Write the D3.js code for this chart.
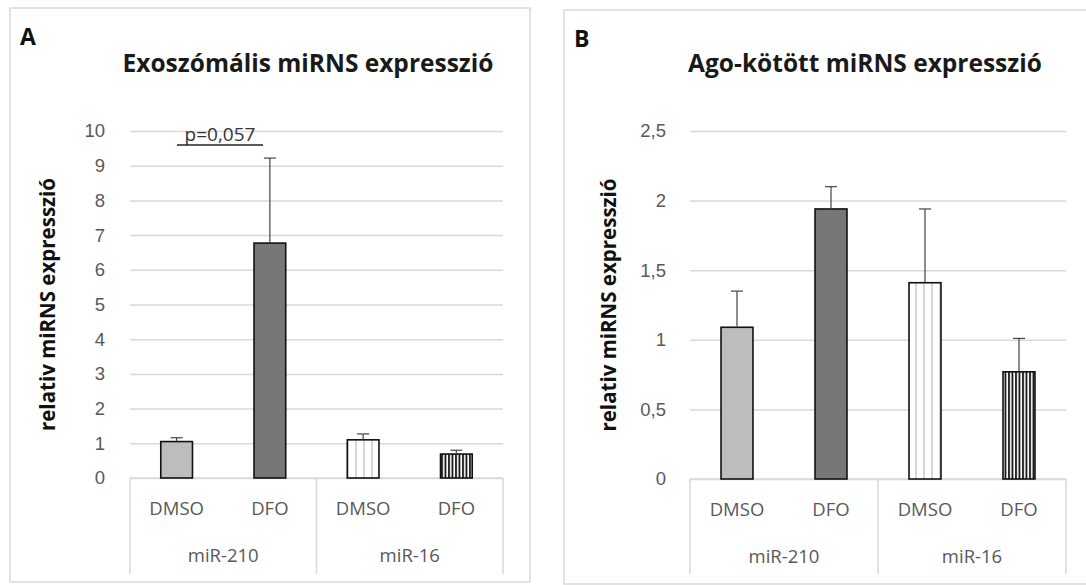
<!DOCTYPE html>
<html>
<head>
<meta charset="utf-8">
<script src="https://cdn.jsdelivr.net/npm/d3@7"></script>
<style>
  body { margin: 0; background: #fff; }
  svg { display: block; font-family: "Open Sans", "Liberation Sans", sans-serif; }
</style>
</head>
<body>
<svg id="chart" width="1086" height="585"></svg>
<script>
// 카테고리
const groups = ['miR-210', 'miR-16'];
const treatments = ['DMSO', 'DFO'];

// A: 엑소좀 miRNA 발현 (평균, 오차)
const exoMean = [1.05, 6.77, 1.1, 0.69];
const exoErr = [0.11, 2.45, 0.17, 0.11];
const exoTicks = [0, 1, 2, 3, 4, 5, 6, 7, 8, 9, 10];

// B: Ago 결합 miRNA 발현
const agoMean = [1.09, 1.94, 1.41, 0.77];
const agoErr = [0.26, 0.16, 0.53, 0.24];
const agoTicks = [0, 0.5, 1, 1.5, 2, 2.5];

const fillIds = ['solidLight', 'solidDark', 'stripeLight', 'stripeDark'];

const svg = d3.select('#chart');
const huFormat = d3.formatLocale({ decimal: ',', thousands: ' ', grouping: [3], currency: ['', ''] }).format('.1~f');

// 패턴 정의
const defs = svg.append('defs');
const p1 = defs.append('pattern').attr('id', 'stripeLight').attr('patternUnits', 'userSpaceOnUse')
    .attr('width', 8).attr('height', 10);
p1.append('rect').attr('width', 8).attr('height', 10).attr('fill', '#fff');
p1.append('line').attr('x1', 4).attr('x2', 4).attr('y1', 0).attr('y2', 10)
    .attr('stroke', '#b0b0b0').attr('stroke-width', 1);

const p2 = defs.append('pattern').attr('id', 'stripeDark').attr('patternUnits', 'userSpaceOnUse')
    .attr('width', 3.5).attr('height', 10);
p2.append('rect').attr('width', 3.5).attr('height', 10).attr('fill', '#fff');
p2.append('line').attr('x1', 1).attr('x2', 1).attr('y1', 0).attr('y2', 10)
    .attr('stroke', '#111').attr('stroke-width', 1.8);

function fillFor(i) {
    if (i === 0) return '#bdbdbd';
    if (i === 1) return '#777777';
    return `url(#${fillIds[i]})`;
}

function drawPanel(opts) {
    const { box, letter, title, titleX, plot, ticks, mean, err, yMax, yLabelX } = opts;
    const g = svg.append('g');

    // 패널 테두리
    g.append('rect')
        .attr('x', box[0]).attr('y', box[1])
        .attr('width', box[2]).attr('height', box[3])
        .attr('fill', '#fff').attr('stroke', '#d9d9d9').attr('stroke-width', 1.5);

    g.append('text')
        .attr('x', box[0] + 10).attr('y', box[1] + 37)
        .attr('font-size', 23).attr('font-weight', 'bold').attr('fill', '#111')
        .text(letter);

    g.append('text')
        .attr('x', titleX).attr('y', 72)
        .attr('text-anchor', 'middle')
        .attr('font-size', 24.5).attr('font-weight', 'bold').attr('fill', '#1a1a1a')
        .text(title);

    const y = d3.scaleLinear().domain([0, yMax]).range([plot.bottom, plot.top]);
    const cats = d3.range(4);
    const x = d3.scaleBand().domain(cats).range([plot.left, plot.right]).paddingInner(0).paddingOuter(0);
    const barW = x.bandwidth() * 0.34;

    // 그리드 + y축
    const yAxis = d3.axisLeft(y)
        .tickValues(ticks)
        .tickSize(-(plot.right - plot.left))
        .tickFormat(huFormat);
    const ay = g.append('g').attr('transform', `translate(${plot.left},0)`).call(yAxis);
    ay.select('.domain').remove();
    ay.selectAll('.tick line').attr('stroke', '#d9d9d9').attr('stroke-width', 1.5);
    ay.selectAll('.tick text')
        .attr('x', -(plot.left - yLabelX))
        .attr('font-size', 18.5).attr('fill', '#595959');

    // 범주 축 상자
    const axisBottom = plot.axisBottom;
    const cg = g.append('g');
    cg.append('line').attr('x1', plot.left).attr('x2', plot.right)
        .attr('y1', plot.bottom).attr('y2', plot.bottom)
        .attr('stroke', '#d9d9d9').attr('stroke-width', 1.5);
    [plot.left, x(2), plot.right].forEach(px => {
        cg.append('line').attr('x1', px).attr('x2', px)
            .attr('y1', plot.bottom).attr('y2', axisBottom)
            .attr('stroke', '#d9d9d9').attr('stroke-width', 1.5);
    });
    cg.selectAll('.cat-label').data(cats).enter().append('text')
        .attr('class', 'cat-label')
        .attr('x', d => x(d) + x.bandwidth() / 2)
        .attr('y', plot.bottom + 37)
        .attr('text-anchor', 'middle')
        .attr('font-size', 18.5).attr('fill', '#595959')
        .text(d => treatments[d % 2]);
    cg.selectAll('.grp-label').data(groups).enter().append('text')
        .attr('class', 'grp-label')
        .attr('x', (d, i) => x(i * 2) + x.bandwidth())
        .attr('y', plot.bottom + 84)
        .attr('text-anchor', 'middle')
        .attr('font-size', 18.5).attr('fill', '#595959')
        .text(d => d);

    // 막대
    g.selectAll('.bar').data(cats).enter().append('rect')
        .attr('class', 'bar')
        .attr('x', d => x(d) + (x.bandwidth() - barW) / 2)
        .attr('y', d => y(mean[d]))
        .attr('width', barW)
        .attr('height', d => y(0) - y(mean[d]))
        .attr('fill', d => fillFor(d))
        .attr('stroke', '#111').attr('stroke-width', 1.6);

    // 오차 막대
    const eg = g.append('g').attr('stroke', '#444').attr('stroke-width', 1.2);
    cats.forEach(d => {
        const cx = x(d) + x.bandwidth() / 2;
        eg.append('line').attr('x1', cx).attr('x2', cx)
            .attr('y1', y(mean[d])).attr('y2', y(mean[d] + err[d]));
        eg.append('line').attr('x1', cx - 6).attr('x2', cx + 6)
            .attr('y1', y(mean[d] + err[d])).attr('y2', y(mean[d] + err[d]));
    });

    // y축 제목
    g.append('text')
        .attr('transform', `translate(${opts.yTitleX},${(plot.top + plot.bottom) / 2}) rotate(-90)`)
        .attr('text-anchor', 'middle')
        .attr('font-size', 20.5).attr('font-weight', 'bold').attr('fill', '#111')
        .text('relativ miRNS expresszió');

    return { g, x, y };
}

const A = drawPanel({
    box: [10, 8, 520, 574], letter: 'A', title: 'Exoszómális miRNS expresszió', titleX: 308,
    plot: { left: 130, right: 503, top: 131, bottom: 478, axisBottom: 574 },
    ticks: exoTicks, mean: exoMean, err: exoErr, yMax: 10, yLabelX: 105, yTitleX: 55
});

// p-값 표시
A.g.append('text')
    .attr('x', 220).attr('y', 141)
    .attr('text-anchor', 'middle')
    .attr('font-size', 19).attr('fill', '#333')
    .text('p=0,057');
A.g.append('line')
    .attr('x1', 177).attr('x2', 263).attr('y1', 145).attr('y2', 145)
    .attr('stroke', '#222').attr('stroke-width', 1.5);

drawPanel({
    box: [564, 10, 530, 574], letter: 'B', title: 'Ago-kötött miRNS expresszió', titleX: 865,
    plot: { left: 690, right: 1066, top: 131, bottom: 479, axisBottom: 574 },
    ticks: agoTicks, mean: agoMean, err: agoErr, yMax: 2.5, yLabelX: 666, yTitleX: 616
});
</script>
</body>
</html>
